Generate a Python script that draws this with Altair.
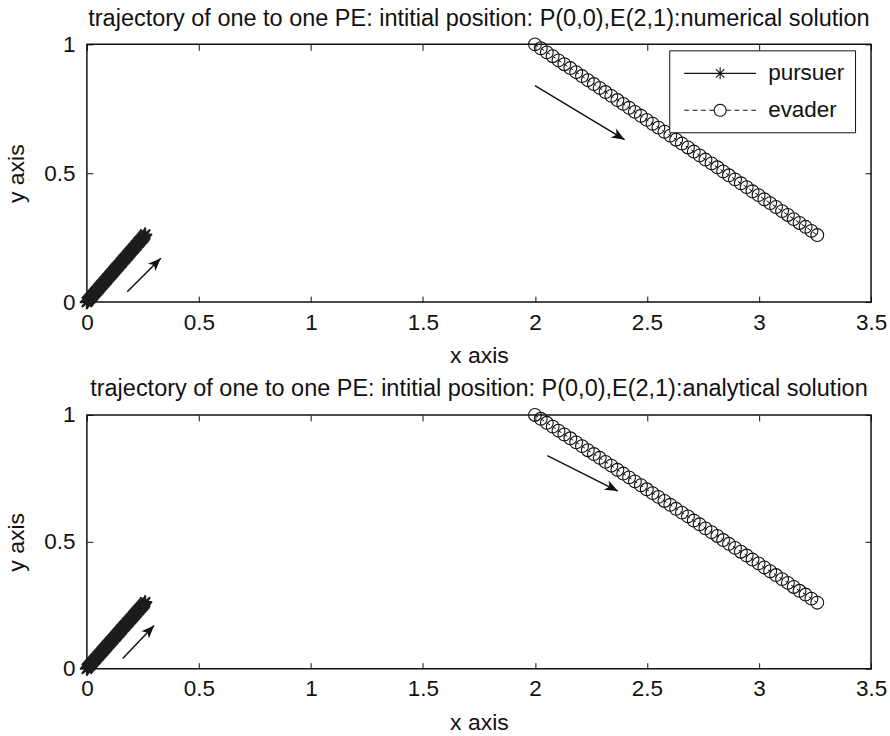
import math
import altair as alt
import pandas as pd

# ---------------- values ----------------
x_ticks = [0, 0.5, 1, 1.5, 2, 2.5, 3, 3.5]
y_ticks = [0, 0.5, 1]
series_names = ["pursuer", "evader"]

pursuer_x = [0.000, 0.005, 0.011, 0.016, 0.022, 0.027, 0.033, 0.038, 0.043, 0.049,
             0.054, 0.060, 0.065, 0.070, 0.076, 0.081, 0.087, 0.092, 0.098, 0.103,
             0.108, 0.114, 0.119, 0.125, 0.130, 0.135, 0.141, 0.146, 0.152, 0.157,
             0.163, 0.168, 0.173, 0.179, 0.184, 0.190, 0.195, 0.200, 0.206, 0.211,
             0.217, 0.222, 0.228, 0.233, 0.238, 0.244, 0.249, 0.255, 0.260]
pursuer_y = [0.000, 0.005, 0.011, 0.016, 0.022, 0.027, 0.033, 0.038, 0.043, 0.049,
             0.054, 0.060, 0.065, 0.070, 0.076, 0.081, 0.087, 0.092, 0.098, 0.103,
             0.108, 0.114, 0.119, 0.125, 0.130, 0.135, 0.141, 0.146, 0.152, 0.157,
             0.163, 0.168, 0.173, 0.179, 0.184, 0.190, 0.195, 0.200, 0.206, 0.211,
             0.217, 0.222, 0.228, 0.233, 0.238, 0.244, 0.249, 0.255, 0.262]
evader_x = [2.000, 2.026, 2.053, 2.079, 2.105, 2.131, 2.158, 2.184, 2.210, 2.236,
            2.263, 2.289, 2.315, 2.341, 2.368, 2.394, 2.420, 2.446, 2.473, 2.499,
            2.525, 2.551, 2.578, 2.604, 2.630, 2.656, 2.683, 2.709, 2.735, 2.761,
            2.788, 2.814, 2.840, 2.866, 2.893, 2.919, 2.945, 2.971, 2.998, 3.024,
            3.050, 3.076, 3.103, 3.129, 3.155, 3.181, 3.208, 3.234, 3.260]
evader_y = [1.000, 0.985, 0.969, 0.954, 0.938, 0.923, 0.908, 0.892, 0.877, 0.861,
            0.846, 0.831, 0.815, 0.800, 0.784, 0.769, 0.754, 0.738, 0.723, 0.707,
            0.692, 0.677, 0.661, 0.646, 0.630, 0.615, 0.600, 0.584, 0.569, 0.553,
            0.538, 0.523, 0.507, 0.492, 0.476, 0.461, 0.446, 0.430, 0.415, 0.399,
            0.384, 0.369, 0.353, 0.338, 0.322, 0.307, 0.292, 0.276, 0.260]

panel_titles = [
    "trajectory of one to one PE: intitial position: P(0,0),E(2,1):numerical solution",
    "trajectory of one to one PE: intitial position: P(0,0),E(2,1):analytical solution",
]

# annotation arrows (data units): pursuer arrow, evader arrow
arrow_x_num = [0.18, 2.00]
arrow_y_num = [0.04, 0.84]
arrow_x2_num = [0.33, 2.40]
arrow_y2_num = [0.17, 0.63]
arrow_x_ana = [0.16, 2.055]
arrow_y_ana = [0.04, 0.84]
arrow_x2_ana = [0.30, 2.37]
arrow_y2_ana = [0.17, 0.70]

# ---------------- styling ----------------
FONT = "Liberation Sans"
W = 785
X_MAX = 3.5
INK = "#111111"

ASTERISK = "M0,-1L0,1M-1,0L1,0M-0.71,-0.71L0.71,0.71M-0.71,0.71L0.71,-0.71"
ARROWHEAD = "M0,0L0.6,1.5L0,1.1L-0.6,1.5Z"


def poly_circle(cx, r, n=20):
    pts = []
    for i in range(n + 1):
        a = 2 * math.pi * i / n
        pts.append(f"{cx + r * math.cos(a):.3f},{r * math.sin(a):.3f}")
    return "M" + "L".join(pts)


LEG_PURSUER = ("M-0.67,0L5.33,0M2.33,-0.5L2.33,0.5"
               "M1.98,-0.35L2.68,0.35M1.98,0.35L2.68,-0.35")
LEG_EVADER = ("M-0.67,0L-0.27,0M0.03,0L0.43,0M0.73,0L1.13,0M1.43,0L1.83,0"
              "M2.83,0L3.23,0M3.53,0L3.93,0M4.23,0L4.63,0M4.93,0L5.33,0"
              + poly_circle(2.33, 0.5))

xs = alt.Scale(domain=[0, X_MAX], nice=False, zero=False)
ys = alt.Scale(domain=[0, 1], nice=False, zero=False)

common_axis = dict(domain=False, grid=False, tickColor=INK, tickWidth=1, tickSize=6,
                   offset=-6, labelFont=FONT, labelFontSize=22.5, labelColor=INK,
                   titleFont=FONT, titleFontSize=23, titleFontWeight="normal",
                   titleColor=INK, format="~g")


def panel(title, height, ax, ay, ax2, ay2):
    traj = pd.DataFrame({
        "x": pursuer_x + evader_x,
        "y": pursuer_y + evader_y,
        "series": ["pursuer"] * len(pursuer_x) + ["evader"] * len(evader_x),
    })
    sx_px = W / X_MAX
    arrows = pd.DataFrame({"x": ax, "y": ay, "x2": ax2, "y2": ay2})
    arrows["angle"] = [
        (math.degrees(math.atan2((b - a) * sx_px, (d - c) * height)) + 360) % 360
        for a, b, c, d in zip(ax, ax2, ay, ay2)
    ]

    bottom_axis = alt.Axis(orient="bottom", values=x_ticks, labelPadding=9,
                           labelFlush=False, title="x axis", titlePadding=11, **common_axis)
    left_axis = alt.Axis(orient="left", values=y_ticks, labelPadding=12,
                         title="y axis", titlePadding=15, **common_axis)
    top_axis = alt.Axis(orient="top", values=x_ticks, labels=False, title=None, **common_axis)
    right_axis = alt.Axis(orient="right", values=y_ticks, labels=False, title=None, **common_axis)

    base = alt.Chart(traj)

    p_line = base.transform_filter("datum.series == 'pursuer'").mark_line(
        color="#1c1c1c", strokeWidth=1.5).encode(
        x=alt.X("x:Q", scale=xs, axis=bottom_axis),
        y=alt.Y("y:Q", scale=ys, axis=left_axis))
    e_line = base.transform_filter("datum.series == 'evader'").mark_line(
        color=INK, strokeWidth=1, strokeDash=[4, 3]).encode(
        x=alt.X("x:Q", scale=xs, axis=None),
        y=alt.Y("y:Q", scale=ys, axis=None))
    p_pts = base.transform_filter("datum.series == 'pursuer'").mark_point(
        shape=ASTERISK, filled=False, size=200, strokeWidth=2.2, color="#1c1c1c",
        opacity=1).encode(
        x=alt.X("x:Q", scale=xs, axis=None),
        y=alt.Y("y:Q", scale=ys, axis=None))
    e_pts = base.transform_filter("datum.series == 'evader'").mark_point(
        shape="circle", filled=False, size=165, strokeWidth=1.1, color=INK,
        opacity=1).encode(
        x=alt.X("x:Q", scale=xs, axis=None),
        y=alt.Y("y:Q", scale=ys, axis=None))

    arrow_lines = alt.Chart(arrows).mark_rule(color=INK, strokeWidth=1.5).encode(
        x=alt.X("x:Q", scale=xs, axis=None),
        y=alt.Y("y:Q", scale=ys, axis=None),
        x2="x2:Q", y2="y2:Q")
    arrow_heads = alt.Chart(arrows).mark_point(
        shape=ARROWHEAD, filled=True, size=300, color=INK, opacity=1).encode(
        x=alt.X("x2:Q", scale=xs, axis=None),
        y=alt.Y("y2:Q", scale=ys, axis=None),
        angle=alt.Angle("angle:Q", scale=None))

    legend = alt.Legend(
        title=None, orient="none", legendX=583, legendY=6,
        labelFont=FONT, labelFontSize=22.5, labelColor=INK, labelOffset=63,
        symbolSize=576, symbolStrokeWidth=1.1, symbolStrokeColor=INK,
        symbolFillColor="transparent", rowPadding=12, padding=10,
        strokeColor=INK, fillColor="white", cornerRadius=0)
    legend_layer = base.transform_filter("false").mark_point(
        filled=False, color=INK, opacity=1).encode(
        x=alt.X("x:Q", scale=xs, axis=top_axis),
        y=alt.Y("y:Q", scale=ys, axis=right_axis),
        shape=alt.Shape("series:N",
                        scale=alt.Scale(domain=series_names, range=[LEG_PURSUER, LEG_EVADER]),
                        legend=legend))

    return alt.layer(p_line, e_line, p_pts, e_pts, arrow_lines, arrow_heads,
                     legend_layer).resolve_axis(x="independent", y="independent").properties(
        width=W, height=height,
        title=alt.TitleParams(text=title, font=FONT, fontSize=23.5, fontWeight="normal",
                              color=INK, anchor="middle", offset=3))


top = panel(panel_titles[0], 258, arrow_x_num, arrow_y_num, arrow_x2_num, arrow_y2_num)
bottom = panel(panel_titles[1], 254, arrow_x_ana, arrow_y_ana, arrow_x2_ana, arrow_y2_ana)

chart = alt.vconcat(top, bottom, spacing=7).properties(
    background="white",
    padding={"left": 4, "top": 5, "right": 2, "bottom": 5},
).configure_view(stroke=INK, strokeWidth=1.5)

chart.save("out.html", embed_options={"renderer": "svg", "actions": False})
